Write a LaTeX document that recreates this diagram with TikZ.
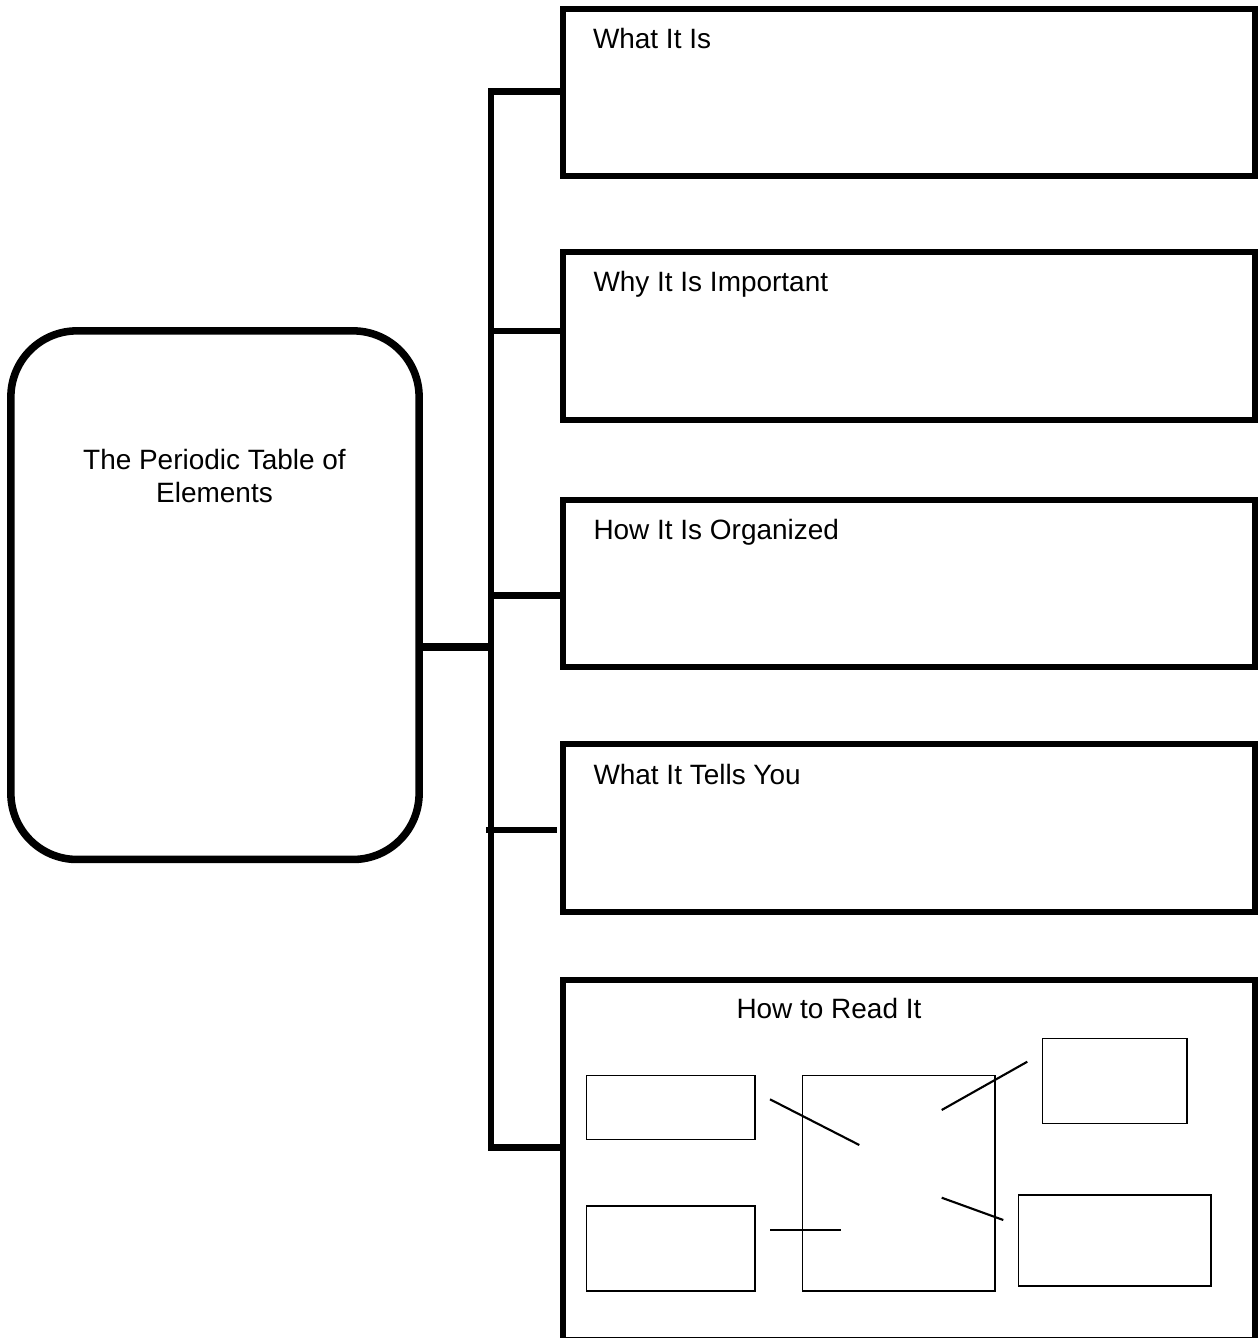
\documentclass[tikz,border=0pt]{standalone}
\usepackage{fontspec}
\setmainfont{Liberation Sans}
\begin{document}
\begin{tikzpicture}[x=0.01cm,y=-0.01cm,
  every node/.style={inner sep=0pt, outer sep=0pt},
  lbl/.style={font=\fontsize{7.95pt}{9.47pt}\selectfont},
  rootbox/.style={draw, line width=2.15pt, rounded corners=0.66cm,
    minimum width=4.08cm, minimum height=5.283cm},
  topicbox/.style={draw, line width=1.7pt, minimum width=6.92cm},
  partbox/.style={draw, line width=0.45pt},
  bus/.style={line width=1.98pt, line join=miter},
  hub/.style={line width=2.2pt},
  leader/.style={line width=0.6pt}]
\useasboundingbox (0,0) rectangle (1259,1338);

% central topic (base anchor sits on the last line)
\node[rootbox] (root) at (215,595.15) {};
\node[lbl, align=center, anchor=base] (roottext) at (214.5,502.7)
  {The Periodic Table of\\Elements};

% five topic boxes
\node[topicbox, minimum height=1.673cm] (box1) at (909,92.35) {};
\node[topicbox, minimum height=1.675cm] (box2) at (909,335.75) {};
\node[topicbox, minimum height=1.67cm]  (box3) at (909,583.5) {};
\node[topicbox, minimum height=1.68cm]  (box4) at (909,828) {};
\node[topicbox, minimum height=3.6cm]   (box5) at (909,1160) {};

\node[lbl, anchor=base west] (t1) at (593,48.3) {What It Is};
\node[lbl, anchor=base west] (t2) at (593.5,291.6) {Why It Is Important};
\node[lbl, anchor=base west] (t3) at (593.5,539.6) {How It Is Organized};
\node[lbl, anchor=base west] (t4) at (593.5,784.3) {What It Tells You};
\node[lbl, anchor=base west] (t5) at (736.5,1018.3) {How to Read It};

% junctions on the vertical bus
\coordinate (j1) at (491,91.7);
\coordinate (j2) at (491,331);
\coordinate (j3) at (491,595.5);
\coordinate (j4) at (491,830);
\coordinate (j5) at (491,1147.5);
\coordinate (j0) at (491,646.7);

% bus with first and last branch
\draw[bus] (j1 -| box1.west) -- (j1) -- (j5) -- (j5 -| box5.west);
\draw[bus] (j2) -- (j2 -| box2.west);
\draw[bus] (j3) -- (j3 -| box3.west);
\draw[bus, shorten <=-0.05cm, shorten >=0.06cm] (j4) -- (j4 -| box4.west);
\draw[hub] (j0 -| root.east) -- (j0);

% small parts inside the last box
\node[partbox, minimum width=1.683cm, minimum height=0.636cm] (pa) at (670.85,1107.5) {};
\node[partbox, minimum width=1.683cm, minimum height=0.85cm]  (pb) at (670.85,1248.5) {};
\node[partbox, minimum width=1.923cm, minimum height=2.153cm] (pm) at (898.85,1183.35) {};
\node[partbox, minimum width=1.44cm,  minimum height=0.85cm]  (pc) at (1114.7,1080.8) {};
\node[partbox, minimum width=1.923cm, minimum height=0.91cm]  (pd) at (1114.85,1240.5) {};

% leader lines
\coordinate (la1) at (770,1099.3);   \coordinate (la2) at (859.3,1145);
\coordinate (lb1) at (770,1230);     \coordinate (lb2) at (840.7,1230);
\coordinate (lc1) at (941.7,1110);   \coordinate (lc2) at (1027.3,1061.7);
\coordinate (ld1) at (941.7,1197.7); \coordinate (ld2) at (1003.3,1220);
\draw[leader] (la1) -- (la2);
\draw[leader] (lb1) -- (lb2);
\draw[leader] (lc1) -- (lc2);
\draw[leader] (ld1) -- (ld2);
\end{tikzpicture}
\end{document}
